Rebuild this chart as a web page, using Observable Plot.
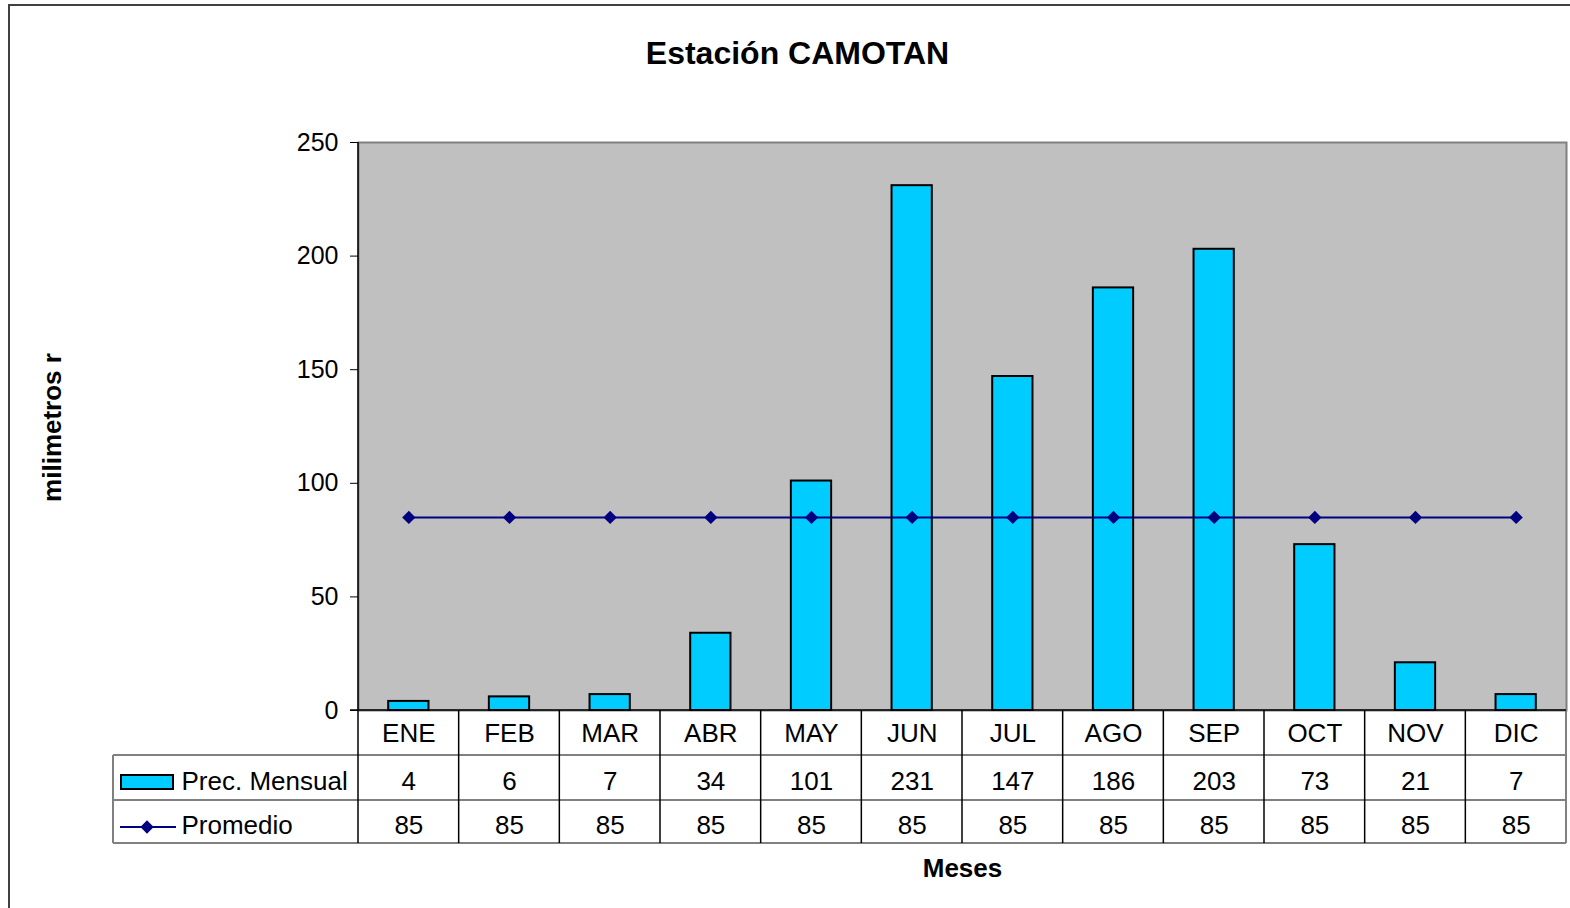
<!DOCTYPE html>
<html>
<head>
<meta charset="utf-8">
<script src="https://cdn.jsdelivr.net/npm/d3@7"></script>
<script src="https://cdn.jsdelivr.net/npm/@observablehq/plot@0.6"></script>
<style>
  html, body { margin: 0; padding: 0; background: #fff; }
  #chart { position: relative; width: 1570px; height: 908px; overflow: hidden; }
  svg { font-family: "Liberation Sans", Arial, sans-serif; }
</style>
</head>
<body>
<div id="chart"></div>
<script>
const months = ["ENE","FEB","MAR","ABR","MAY","JUN","JUL","AGO","SEP","OCT","NOV","DIC"];
const precMensual = [4, 6, 7, 34, 101, 231, 147, 186, 203, 73, 21, 7];
const promedio = [85, 85, 85, 85, 85, 85, 85, 85, 85, 85, 85, 85];
const yTicks = [0, 50, 100, 150, 200, 250];
const titleText = "Estación CAMOTAN";
const yLabel = "milimetros r";
const xLabel = "Meses";
const seriesNames = ["Prec. Mensual", "Promedio"];

const data = months.map((m, i) => ({month: m, prec: precMensual[i], prom: promedio[i]}));

const W = 1570, H = 908;
const mL = 358, mR = 4, mT = 142, mB = 198;
const font = "Liberation Sans, Arial, sans-serif";
const tfs = 26; // table font size

const plot = Plot.plot({
  width: W,
  height: H,
  marginLeft: mL,
  marginRight: mR,
  marginTop: mT,
  marginBottom: mB,
  style: {fontFamily: font, color: "black", background: "white"},
  x: {type: "band", domain: months, paddingInner: 0.6, paddingOuter: 0.3, align: 0.5, round: false, axis: null},
  y: {domain: [0, 250], axis: null},
  marks: [
    Plot.frame({fill: "#C0C0C0", stroke: "#808080", strokeWidth: 2}),
    Plot.axisY({ticks: yTicks, tickSize: 8, tickPadding: 12, fontSize: 25, label: null, stroke: "black"}),
    Plot.barY(data, {x: "month", y: "prec", fill: "#00CCFF", stroke: "black", strokeWidth: 2}),
    Plot.lineY(data, {x: "month", y: "prom", stroke: "#000080", strokeWidth: 2}),
    Plot.dot(data, {x: "month", y: "prom", symbol: "diamond2", r: 6, fill: "#000080", stroke: "none"}),
    // Data table rows
    Plot.text(data, {x: "month", text: "month", frameAnchor: "bottom", dy: 23, fontSize: tfs, fill: "black", lineAnchor: "middle"}),
    Plot.text(data, {x: "month", text: d => String(d.prec), frameAnchor: "bottom", dy: 71, fontSize: tfs, fill: "black", lineAnchor: "middle"}),
    Plot.text(data, {x: "month", text: d => String(d.prom), frameAnchor: "bottom", dy: 115, fontSize: tfs, fill: "black", lineAnchor: "middle"}),
    // Title and axis labels
    Plot.text([titleText], {frameAnchor: "top", dx: 797 - (mL + (W - mR)) / 2, dy: -89, text: d => d, fontSize: 32, fontWeight: "bold", fill: "black", lineAnchor: "middle"}),
    Plot.text([xLabel], {frameAnchor: "bottom", dy: 158, text: d => d, fontSize: 26, fontWeight: "bold", fill: "black", lineAnchor: "middle"}),
    Plot.text([yLabel], {frameAnchor: "left", dx: 52 - mL, dy: 427 - (mT + (H - mB)) / 2, text: d => d, fontSize: 26, fontWeight: "bold", fill: "black", rotate: -90, textAnchor: "middle", lineAnchor: "middle"}),
    // Legend labels in table
    Plot.text([seriesNames[0]], {frameAnchor: "bottom-left", dx: 181 - mL, dy: 71, text: d => d, fontSize: tfs, fill: "black", textAnchor: "start", lineAnchor: "middle"}),
    Plot.text([seriesNames[1]], {frameAnchor: "bottom-left", dx: 181 - mL, dy: 115, text: d => d, fontSize: tfs, fill: "black", textAnchor: "start", lineAnchor: "middle"})
  ]
});

document.getElementById("chart").appendChild(plot);

// Table grid, axis line, legend symbols and outer border using Plot's x scale
const svg = d3.select(plot);
const xs = plot.scale("x");
const bw = xs.bandwidth;
const step = xs.step || (xs.range[1] - xs.range[0]) / months.length;
const left = i => xs.apply(months[i]) + bw / 2 - step / 2;
const y0 = H - mB;           // baseline (value 0)
const r1 = y0 + 45, r2 = y0 + 90, r3 = y0 + 133;
const tableLeft = 113;
const xEnd = left(months.length - 1) + step;

const g = svg.append("g");
// horizontal grey lines
[r1, r2, r3].forEach(y => {
  g.append("line").attr("x1", tableLeft).attr("x2", xEnd).attr("y1", y).attr("y2", y)
    .attr("stroke", "#808080").attr("stroke-width", 2);
});
// left border of legend column
g.append("line").attr("x1", tableLeft).attr("x2", tableLeft).attr("y1", r1).attr("y2", r3)
  .attr("stroke", "#808080").attr("stroke-width", 2);
// right border of table
g.append("line").attr("x1", xEnd).attr("x2", xEnd).attr("y1", y0).attr("y2", r3)
  .attr("stroke", "#808080").attr("stroke-width", 2);
// vertical black column separators
for (let i = 1; i < months.length; i++) {
  g.append("line").attr("x1", left(i)).attr("x2", left(i)).attr("y1", y0).attr("y2", r3)
    .attr("stroke", "black").attr("stroke-width", 1.5);
}
// baseline across table top
g.append("line").attr("x1", mL - 8).attr("x2", xEnd).attr("y1", y0).attr("y2", y0)
  .attr("stroke", "black").attr("stroke-width", 1.5);
// value axis line extending through the table
g.append("line").attr("x1", mL).attr("x2", mL).attr("y1", mT).attr("y2", r3)
  .attr("stroke", "black").attr("stroke-width", 1.5);

// legend symbols
g.append("rect").attr("x", 121).attr("y", 775).attr("width", 52).attr("height", 14)
  .attr("fill", "#00CCFF").attr("stroke", "black").attr("stroke-width", 2);
g.append("line").attr("x1", 120).attr("x2", 176).attr("y1", 827).attr("y2", 827)
  .attr("stroke", "#000080").attr("stroke-width", 2);
g.append("path").attr("d", d3.symbol(d3.symbolDiamond2, Math.PI * 36)()).attr("transform", "translate(147,827)")
  .attr("fill", "#000080");

// outer chart border
svg.append("rect").attr("x", 9).attr("y", 5).attr("width", W + 10).attr("height", H + 10)
  .attr("fill", "none").attr("stroke", "#404040").attr("stroke-width", 2);
</script>
</body>
</html>
